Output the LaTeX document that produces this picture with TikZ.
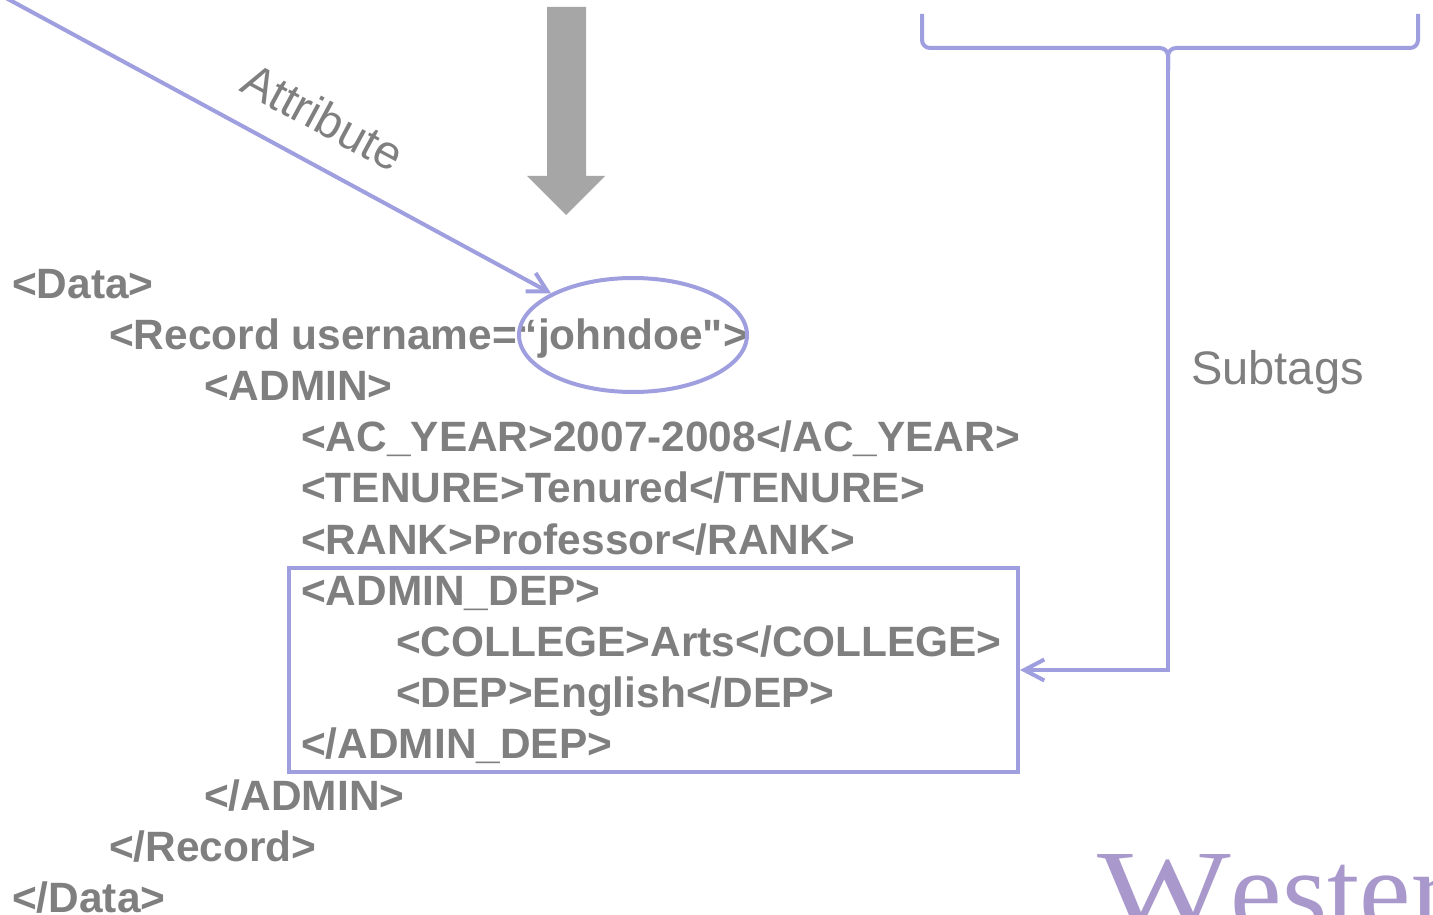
\documentclass[tikz,border=0pt]{standalone}
\usepackage{fontspec}
\setmainfont{Liberation Sans}
\newfontfamily\logofont{Liberation Serif}
\usetikzlibrary{arrows.meta,shapes.geometric}
\definecolor{txtgray}{HTML}{7F7F7F}
\definecolor{lav}{HTML}{9F9FDF}
\definecolor{biggray}{HTML}{A6A6A6}
\definecolor{logocol}{HTML}{A898CB}
\newcommand\straightdq{\XeTeXglyph\XeTeXcharglyph"22\relax}
\begin{document}
\begin{tikzpicture}[x=1pt,y=-1pt,
  code/.style={anchor=base west, inner sep=0pt, text=txtgray, font=\fontsize{42.4}{50}\selectfont\bfseries},
  lbl/.style={inner sep=0pt, text=txtgray, font=\fontsize{47}{56}\selectfont},
  lavline/.style={draw=lav, line width=4pt},
  barb/.style={-{Straight Barb[length=19pt,width=21pt]}}
]
\useasboundingbox (0,0) rectangle (1433,915);
\clip (0,0) rectangle (1433,915);
\fill[white] (0,0) rectangle (1433,915);

% big gray arrow
\fill[biggray] (547,7) -- (586,7) -- (586,176) -- (605,176) -- (566,215) -- (527,176) -- (547,176) -- cycle;

% code lines
\node[code] (l0) at (12,298) {<Data>};
\node[code] (l1) at (109,349.2) {<Record username=“johndoe\straightdq>};
\node[code] (l2) at (204,400.4) {<ADMIN>};
\node[code] (l3) at (301,451.6) {<AC\_YEAR>2007-2008</AC\_YEAR>};
\node[code] (l4) at (301,502.8) {<TENURE>Tenured</TENURE>};
\node[code] (l5) at (301,554) {<RANK>Professor</RANK>};
\node[code] (l6) at (301,605.2) {<ADMIN\_DEP>};
\node[code] (l7) at (396,656.4) {<COLLEGE>Arts</COLLEGE>};
\node[code] (l8) at (396,707.6) {<DEP>English</DEP>};
\node[code] (l9) at (301,758.8) {</ADMIN\_DEP>};
\node[code] (l10) at (204,810) {</ADMIN>};
\node[code] (l11) at (109,861.2) {</Record>};
\node[code] (l12) at (12,912.4) {</Data>};

% box around ADMIN_DEP
\node[lavline, rectangle, inner sep=0pt, minimum width=729pt, minimum height=204pt] (box) at (653.5,670) {};

% ellipse around johndoe
\node[lavline, ellipse, inner sep=0pt, minimum width=228pt, minimum height=114pt] (ell) at (633,335) {};

% attribute arrow
\coordinate (attrstart) at (-5,-8);
\draw[lavline, barb] (attrstart) -- (ell.north west);
\node[lbl, rotate=-28.4] (attr) at (323,117) {Attribute};

% brace and subtags arrow
\coordinate (bl) at (922,14);
\coordinate (br) at (1418,14);
\coordinate (bmid) at (1168,48);
\coordinate (stemtop) at (1168,70);
\coordinate (stemturn) at (1168,670);
\draw[lavline, rounded corners=8pt] (bl) -- (922,48) -- (bmid) -- (stemtop);
\draw[lavline, rounded corners=8pt] (br) -- (1418,48) -- (bmid) -- (stemtop);
\draw[lavline, -{Straight Barb[length=20pt,width=21pt]}] (1168,60) -- (stemturn) -- (box.east);
\node[lbl, anchor=base west] (subtags) at (1191,384) {Subtags};

% logo
\node[anchor=base west, inner sep=0pt, text=logocol, font=\logofont\fontsize{116}{120}\selectfont] (logo) at (1097,930) {\scalebox{1.22}[1]{W}estern};
\end{tikzpicture}
\end{document}
